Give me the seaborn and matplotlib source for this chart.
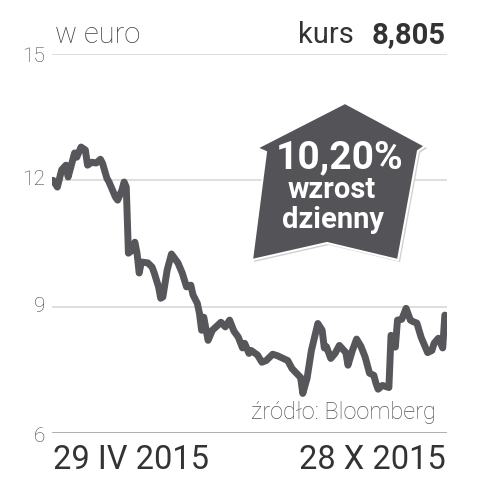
import matplotlib
matplotlib.use("Agg")
import matplotlib.pyplot as plt
import seaborn as sns
import pandas as pd
from matplotlib.patches import Polygon

# dane: dni od 29 IV 2015, kurs w euro
days = [0, 2, 4, 6, 7, 10, 11, 13, 15, 16, 18, 20, 22, 23, 25, 26, 29, 30, 32, 33,
        34, 35, 37, 38, 39, 40, 41, 44, 46, 47, 49, 50, 51, 53, 55, 58, 60, 62, 64, 65,
        67, 68, 69, 70, 72, 74, 78, 80, 82, 84, 86, 88, 89, 91, 92, 95, 97, 99, 102, 104,
        109, 111, 114, 115, 116, 118, 120, 123, 125, 126, 127, 129, 131, 133, 136, 137, 139, 141, 143, 145,
        147, 149, 150, 151, 153, 156, 157, 159, 160, 162, 164, 166, 167, 169, 171, 174, 176, 177, 179, 181,
        182]
prices = [12.0, 11.84, 12.25, 12.36, 12.08, 12.65, 12.55, 12.79, 12.72, 12.36, 12.43, 12.41, 12.5, 12.4, 12.05, 11.96, 11.6, 11.53, 11.77, 11.96,
          11.84, 10.27, 10.35, 10.53, 10.27, 9.8, 10.06, 10.04, 9.94, 9.8, 9.47, 9.2, 9.23, 9.87, 10.25, 10.04, 9.8, 9.47, 9.51, 9.28,
          9.08, 8.84, 8.44, 8.75, 8.2, 8.44, 8.63, 8.52, 8.68, 8.42, 8.28, 8.02, 8.13, 7.89, 7.96, 7.85, 7.68, 7.72, 7.87, 7.84,
          7.72, 7.53, 7.37, 7.32, 6.94, 7.3, 7.96, 8.6, 8.44, 8.02, 8.05, 7.77, 7.89, 8.08, 7.91, 7.61, 7.95, 8.23, 8.06, 7.8,
          7.42, 7.37, 7.18, 7.04, 7.13, 7.08, 8.32, 8.04, 8.68, 8.7, 8.96, 8.68, 8.65, 8.61, 8.27, 7.91, 7.96, 8.13, 8.25, 8.02,
          8.8]
y_ticks = [6, 9, 12, 15]
date_labels = ["29 IV 2015", "28 X 2015"]

df = pd.DataFrame({"day": days, "kurs": prices})

sns.set_style("white")
plt.rcParams["font.family"] = ["Roboto", "DejaVu Sans"]

W, H = 487, 497
fig = plt.figure(figsize=(W / 100, H / 100), dpi=100)
ax = fig.add_axes([52 / W, 1 - 433 / H, (447 - 52) / W, (433 - 54) / H])


def px(x, y):
    return x / W, 1 - y / H


# linie siatki
for t in y_ticks:
    ax.axhline(t, color="#9a9a9a" if t == 6 else "#d4d4d4", lw=1.1, zorder=1)

sns.lineplot(data=df, x="day", y="kurs", ax=ax, color="#57575b", lw=5,
             zorder=3, solid_joinstyle="round", solid_capstyle="round")

ax.set_xlim(-0.5, 183)
ax.set_ylim(6, 15)
ax.set_xticks([])
ax.set_yticks([])
ax.set_xlabel("")
ax.set_ylabel("")
for s in ax.spines.values():
    s.set_visible(False)
ax.patch.set_alpha(0)

# etykiety osi Y
ylab_pos = {15: 57, 12: 180, 9: 307, 6: 436}
for t in y_ticks:
    fig.text(*px(45, ylab_pos[t]), str(t), ha="right", va="center",
             fontsize=15, color="#444444", fontweight="light")

fig.text(*px(55, 35), "w euro", ha="left", va="center", fontsize=21,
         color="#444444", fontweight="light")
fig.text(*px(354, 35), "kurs", ha="right", va="center", fontsize=21,
         color="#333333")
fig.text(*px(446, 35), "8,805", ha="right", va="center", fontsize=21,
         color="#333333", fontweight="bold")

fig.text(*px(53, 460), date_labels[0], ha="left", va="center", fontsize=23.5,
         color="#333333")
fig.text(*px(446, 460), date_labels[1], ha="right", va="center", fontsize=23.5,
         color="#333333")
fig.text(*px(436, 413), "źródło: Bloomberg", ha="right", va="center",
         fontsize=17, color="#555555", fontweight="light")

# strzałka
arrow_px = [(345, 103), (425, 146), (418, 151), (398, 260), (327, 243),
            (252, 260), (266, 152), (257, 148)]
shadow = Polygon([px(x + 2, y + 2) for x, y in arrow_px], closed=True,
                 transform=fig.transFigure, facecolor="#cfcfcf",
                 edgecolor="none", zorder=4)
badge = Polygon([px(x, y) for x, y in arrow_px], closed=True,
                transform=fig.transFigure, facecolor="#545458",
                edgecolor="white", lw=1.5, zorder=5, joinstyle="miter")
fig.patches.extend([shadow, badge])

fig.text(*px(340, 158), "10,20%", ha="center", va="center", fontsize=28,
         color="white", fontweight="bold", zorder=6)
fig.text(*px(332, 190), "wzrost", ha="center", va="center", fontsize=21,
         color="white", fontweight="bold", zorder=6)
fig.text(*px(333, 220), "dzienny", ha="center", va="center", fontsize=21,
         color="white", fontweight="bold", zorder=6)

fig.savefig("out.png", dpi=100, facecolor="white")
